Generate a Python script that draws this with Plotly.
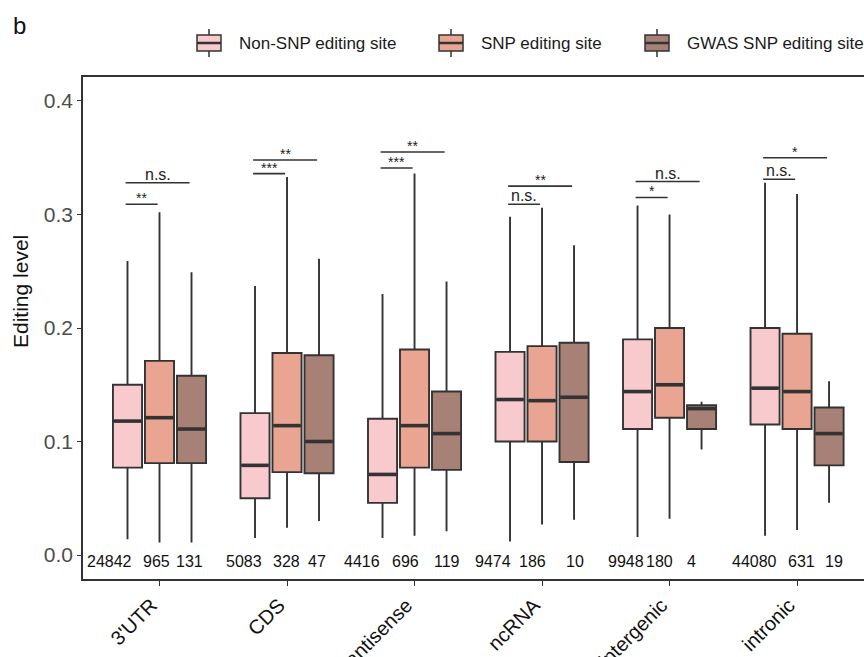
import plotly.graph_objects as go

# ---------------- data ----------------
categories = ["3'UTR", "CDS", "antisense", "ncRNA", "intergenic", "intronic"]
series_names = ["Non-SNP editing site", "SNP editing site", "GWAS SNP editing site"]

nonsnp_lo = [0.014, 0.015, 0.015, 0.012, 0.016, 0.017]
nonsnp_q1 = [0.077, 0.050, 0.046, 0.100, 0.111, 0.115]
nonsnp_med = [0.118, 0.079, 0.071, 0.137, 0.144, 0.147]
nonsnp_q3 = [0.150, 0.125, 0.120, 0.179, 0.190, 0.200]
nonsnp_hi = [0.259, 0.237, 0.230, 0.298, 0.308, 0.328]

snp_lo = [0.011, 0.024, 0.017, 0.027, 0.032, 0.022]
snp_q1 = [0.081, 0.073, 0.077, 0.100, 0.121, 0.111]
snp_med = [0.121, 0.114, 0.114, 0.136, 0.150, 0.144]
snp_q3 = [0.171, 0.178, 0.181, 0.184, 0.200, 0.195]
snp_hi = [0.302, 0.333, 0.336, 0.306, 0.300, 0.318]

gwas_lo = [0.011, 0.030, 0.021, 0.031, 0.093, 0.046]
gwas_q1 = [0.081, 0.072, 0.075, 0.082, 0.111, 0.079]
gwas_med = [0.111, 0.100, 0.107, 0.139, 0.129, 0.107]
gwas_q3 = [0.158, 0.176, 0.144, 0.187, 0.132, 0.130]
gwas_hi = [0.249, 0.261, 0.241, 0.273, 0.135, 0.153]

nonsnp_n = [24842, 5083, 4416, 9474, 9948, 44080]
snp_n = [965, 328, 696, 186, 180, 631]
gwas_n = [131, 47, 119, 10, 4, 19]

# significance brackets: category index, second group index (first is always 0), label
sig_cat = [0, 0, 1, 1, 2, 2, 3, 3, 4, 4, 5, 5]
sig_to = [1, 2, 1, 2, 1, 2, 1, 2, 1, 2, 1, 2]
sig_y = [0.309, 0.328, 0.336, 0.348, 0.341, 0.355, 0.309, 0.325, 0.315, 0.329, 0.331, 0.350]
sig_label = ["**", "n.s.", "***", "**", "***", "**", "n.s.", "**", "*", "n.s.", "n.s.", "*"]

# ---------------- style / layout ----------------
colors = ["#F8CACD", "#E9A591", "#A78176"]
edge = "#333333"
W, H = 864, 657
ML, MR, MT, MB = 83, 0, 77, 78
OFF = 0.251          # distance between neighbouring boxes (axis units)
BW = 0.228           # box width (axis units)
FONT = "Liberation Sans, Arial, Helvetica, sans-serif"

# count label x positions (axis units)
count_x = [
    [-0.392, 0.663, 1.588, 2.616, 3.659, 4.663],
    [-0.020, 0.992, 1.933, 2.922, 3.918, 5.031],
    [0.239, 1.235, 2.255, 3.259, 4.176, 5.290],
]

stats = [
    (nonsnp_lo, nonsnp_q1, nonsnp_med, nonsnp_q3, nonsnp_hi, nonsnp_n),
    (snp_lo, snp_q1, snp_med, snp_q3, snp_hi, snp_n),
    (gwas_lo, gwas_q1, gwas_med, gwas_q3, gwas_hi, gwas_n),
]

fig = go.Figure()
annotations = []
shapes = []

for s, (lo, q1, med, q3, hi, n) in enumerate(stats):
    pos = [i + (s - 1) * OFF for i in range(len(categories))]
    fig.add_trace(go.Box(
        x=pos, lowerfence=lo, q1=q1, median=med, q3=q3, upperfence=hi,
        name=series_names[s], width=BW, whiskerwidth=0,
        fillcolor=colors[s], line=dict(color=edge, width=1.9),
        boxpoints=False, showlegend=False, hoverinfo="skip",
    ))
    # thicker median bars
    mx, my = [], []
    for p, m in zip(pos, med):
        mx += [p - BW / 2 + 0.008, p + BW / 2 - 0.008, None]
        my += [m, m, None]
    fig.add_trace(go.Scatter(x=mx, y=my, mode="lines",
                             line=dict(color=edge, width=3.6),
                             showlegend=False, hoverinfo="skip"))
    for xv, cnt in zip(count_x[s], n):
        annotations.append(dict(x=xv, y=-0.0055, xref="x", yref="y", text=str(cnt),
                                showarrow=False, font=dict(size=16, color="#111111", family=FONT),
                                xanchor="center", yanchor="middle"))

# significance brackets
for c, t, yv, lab in zip(sig_cat, sig_to, sig_y, sig_label):
    x0 = c - OFF - 0.015
    x1 = c + (t - 1) * OFF - 0.015
    shapes.append(dict(type="line", xref="x", yref="y", x0=x0, x1=x1, y0=yv, y1=yv,
                       line=dict(color=edge, width=1.6)))
    is_ns = lab == "n.s."
    annotations.append(dict(x=(x0 + x1) / 2, y=yv, xref="x", yref="y", text=lab,
                            showarrow=False, xanchor="center", yanchor="bottom",
                            yshift=-2 if is_ns else -4,
                            font=dict(size=16 if is_ns else 14, color="#222222", family=FONT)))

# manual legend (ggplot-like keys); positions given in pixels
def px(xp):
    return (xp - ML) / (W - ML - MR)

def py(yp):
    return (H - MB - yp) / (H - MT - MB)

legend_left = [197, 439, 645]
for s in range(3):
    l = legend_left[s]
    r = l + 24
    cx = (l + r) / 2
    shapes.append(dict(type="line", xref="paper", yref="paper", x0=px(cx), x1=px(cx),
                       y0=py(29), y1=py(57), line=dict(color=edge, width=1.5)))
    shapes.append(dict(type="rect", xref="paper", yref="paper", x0=px(l), x1=px(r),
                       y0=py(35), y1=py(51), fillcolor=colors[s],
                       line=dict(color=edge, width=1.5)))
    shapes.append(dict(type="line", xref="paper", yref="paper", x0=px(l), x1=px(r),
                       y0=py(43), y1=py(43), line=dict(color=edge, width=2.5)))
    annotations.append(dict(x=px(l + 40), y=py(43), xref="paper", yref="paper",
                            text=series_names[s], showarrow=False, xanchor="left",
                            yanchor="middle", font=dict(size=17, color="#1a1a1a", family=FONT)))

# panel letter
annotations.append(dict(x=px(11), y=py(25), xref="paper", yref="paper", text="b",
                        showarrow=False, xanchor="left", yanchor="middle",
                        font=dict(size=24, color="#111111", family=FONT)))

# y-axis title (placed like the reference, above the vertical centre)
annotations.append(dict(x=px(20), y=py(292), xref="paper", yref="paper", text="Editing level",
                        showarrow=False, textangle=-90, xanchor="center", yanchor="middle",
                        font=dict(size=21, color="#111111", family=FONT)))

fig.update_layout(
    width=W, height=H,
    margin=dict(l=ML, r=MR, t=MT, b=MB, pad=0, autoexpand=False),
    paper_bgcolor="white", plot_bgcolor="white",
    boxmode="overlay", showlegend=False,
    font=dict(family=FONT),
    shapes=shapes, annotations=annotations,
    xaxis=dict(
        range=[-0.6, 5.525], tickmode="array",
        tickvals=list(range(len(categories))), ticktext=categories,
        tickangle=-45, tickfont=dict(size=20, color="#111111", family=FONT),
        ticklabelshift=-8, automargin=False,
        showline=True, linecolor=edge, linewidth=1.6, mirror=True,
        ticks="outside", ticklen=5, tickcolor=edge, tickwidth=1.3,
        showgrid=False, zeroline=False,
    ),
    yaxis=dict(
        range=[-0.0211, 0.4211], tickmode="array",
        tickvals=[0.0, 0.1, 0.2, 0.3, 0.4], ticktext=["0.0", "0.1", "0.2", "0.3", "0.4"],
        tickfont=dict(size=21, color="#4D4D4D", family=FONT), automargin=False,
        showline=True, linecolor=edge, linewidth=1.6, mirror=False,
        ticks="outside", ticklen=4, tickcolor=edge, tickwidth=1.3,
        showgrid=False, zeroline=False,
    ),
)

fig.write_html(
    "out.html",
    config={"displayModeBar": False},
    post_script=(
        "var d=document.documentElement,b=document.body;"
        "d.style.margin='0';d.style.padding='0';d.style.overflow='hidden';"
        "b.style.margin='0';b.style.padding='0';b.style.overflow='hidden';"
    ),
)
